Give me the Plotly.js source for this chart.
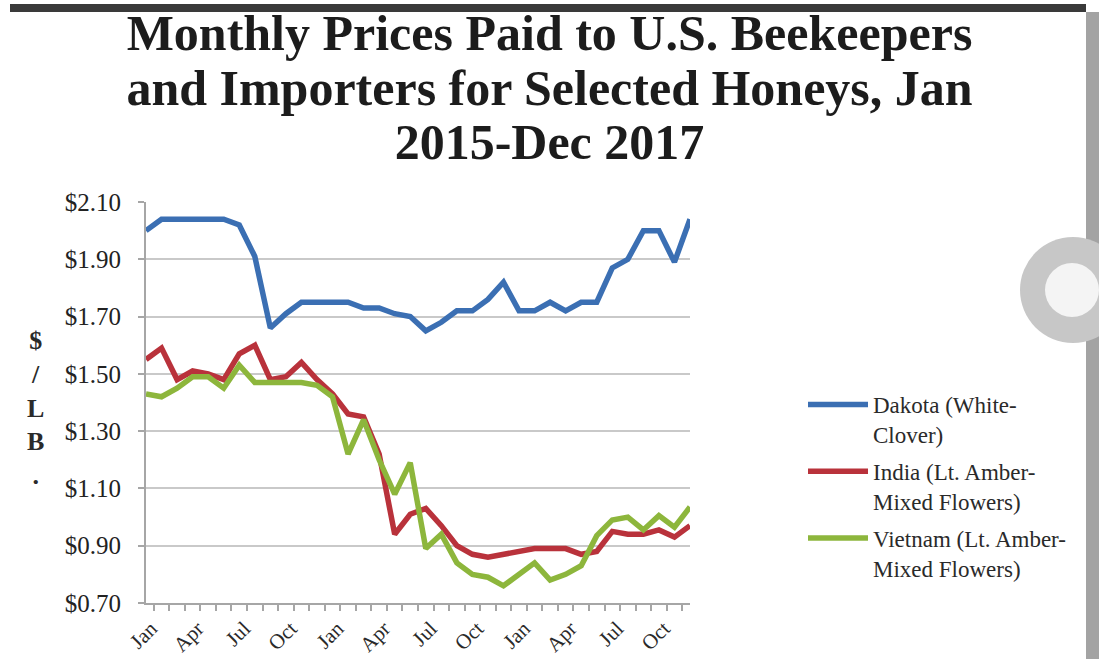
<!DOCTYPE html>
<html>
<head>
<meta charset="utf-8">
<script src="https://cdn.plot.ly/plotly-3.0.1.min.js"></script>
<style>
  html, body { margin: 0; padding: 0; background: #ffffff; }
  #chart { width: 1099px; height: 659px; }
</style>
</head>
<body>
<div id="chart"></div>
<script>
// ---- Data ----
const months = [
  "Jan 2015","Feb 2015","Mar 2015","Apr 2015","May 2015","Jun 2015",
  "Jul 2015","Aug 2015","Sep 2015","Oct 2015","Nov 2015","Dec 2015",
  "Jan 2016","Feb 2016","Mar 2016","Apr 2016","May 2016","Jun 2016",
  "Jul 2016","Aug 2016","Sep 2016","Oct 2016","Nov 2016","Dec 2016",
  "Jan 2017","Feb 2017","Mar 2017","Apr 2017","May 2017","Jun 2017",
  "Jul 2017","Aug 2017","Sep 2017","Oct 2017","Nov 2017","Dec 2017"
];
const tickLabels = [
  "Jan","","","Apr","","","Jul","","","Oct","","",
  "Jan","","","Apr","","","Jul","","","Oct","","",
  "Jan","","","Apr","","","Jul","","","Oct","",""
];
const dakota = [
  2.00, 2.04, 2.04, 2.04, 2.04, 2.04, 2.02, 1.91, 1.66, 1.71, 1.75, 1.75,
  1.75, 1.75, 1.73, 1.73, 1.71, 1.70, 1.65, 1.68, 1.72, 1.72, 1.76, 1.82,
  1.72, 1.72, 1.75, 1.72, 1.75, 1.75, 1.87, 1.90, 2.00, 2.00, 1.89, 2.04
];
const india = [
  1.55, 1.59, 1.48, 1.51, 1.50, 1.48, 1.57, 1.60, 1.48, 1.49, 1.54, 1.48,
  1.43, 1.36, 1.35, 1.22, 0.94, 1.01, 1.03, 0.97, 0.90, 0.87, 0.86, 0.87,
  0.88, 0.89, 0.89, 0.89, 0.87, 0.88, 0.95, 0.94, 0.94, 0.955, 0.93, 0.97
];
const vietnam = [
  1.43, 1.42, 1.45, 1.49, 1.49, 1.45, 1.53, 1.47, 1.47, 1.47, 1.47, 1.46,
  1.42, 1.22, 1.34, 1.20, 1.08, 1.19, 0.89, 0.94, 0.84, 0.80, 0.79, 0.76,
  0.80, 0.84, 0.78, 0.80, 0.83, 0.935, 0.99, 1.00, 0.955, 1.005, 0.965, 1.035
];
const seriesNames = [
  "Dakota (White-<br>Clover)",
  "India (Lt. Amber-<br>Mixed Flowers)",
  "Vietnam (Lt. Amber-<br>Mixed Flowers)"
];
const titleLines = [
  "Monthly Prices Paid to U.S. Beekeepers",
  "and Importers for Selected Honeys, Jan",
  "2015-Dec 2017"
];
const yTicks = [0.70, 0.90, 1.10, 1.30, 1.50, 1.70, 1.90, 2.10];

// ---- Styling ----
const colors = ["#3b6fb3", "#b9323b", "#8db63c"];
const serif = "Liberation Serif, Times New Roman, serif";

const seriesValues = [dakota, india, vietnam];
const traces = seriesValues.map((vals, k) => ({
  type: "scatter",
  mode: "lines",
  x: months,
  y: vals,
  name: seriesNames[k],
  legendgroup: "g" + k,
  line: { color: colors[k], width: 5.5, shape: "linear" },
  hovertemplate: "%{x}: $%{y:.2f}<extra></extra>"
}));

// helpers for decorations (pixel -> paper)
const L = 146, R = 690, T = 202, B = 603;
const px = x => (x - L) / (R - L);
const py = y => (B - y) / (B - T);

const layout = {
  width: 1099,
  height: 659,
  paper_bgcolor: "#ffffff",
  plot_bgcolor: "#ffffff",
  margin: { l: L, r: 1099 - R, t: T, b: 659 - B, pad: 0 },
  showlegend: true,
  title: {
    text: titleLines.map(s => '<span style="font-size:50px">' + s + '</span>').join("<br>"),
    font: { family: serif, size: 42, color: "#1c1c1c", weight: "bold" },
    x: 0.5, xanchor: "center",
    y: 0.924, yanchor: "top", yref: "container"
  },
  xaxis: {
    type: "category",
    tickmode: "array",
    tickvals: months,
    ticktext: tickLabels,
    tickson: "boundaries",
    ticks: "outside",
    ticklen: 6,
    tickwidth: 1.5,
    tickcolor: "#a6a6a6",
    tickangle: -45,
    ticklabelstandoff: 3,
    ticklabelshift: 5,
    tickfont: { family: serif, size: 21, color: "#2a2a2a" },
    showline: true,
    linecolor: "#a6a6a6",
    linewidth: 2,
    showgrid: false,
    zeroline: false,
    fixedrange: true
  },
  yaxis: {
    range: [0.70, 2.10],
    tickmode: "array",
    tickvals: yTicks,
    tickformat: "$.2f",
    ticks: "outside",
    ticklen: 6,
    tickwidth: 1.5,
    tickcolor: "#a6a6a6",
    ticklabelstandoff: 12,
    tickfont: { family: serif, size: 25, color: "#222222" },
    showline: true,
    linecolor: "#a6a6a6",
    linewidth: 2,
    showgrid: true,
    gridcolor: "#c9c9c9",
    gridwidth: 2,
    zeroline: false,
    fixedrange: true
  },
  legend: {
    x: px(803), xanchor: "left",
    y: py(383), yanchor: "top",
    xref: "paper", yref: "paper",
    valign: "top",
    traceorder: "grouped",
    tracegroupgap: 4,
    itemwidth: 60,
    font: { family: serif, size: 23, color: "#2a2a2a" },
    bgcolor: "rgba(0,0,0,0)"
  },
  annotations: [
    {
      text: "$<br>/<br>L<br>B<br>.",
      xref: "paper", yref: "paper",
      x: px(35), y: py(408),
      xanchor: "center", yanchor: "middle",
      showarrow: false,
      align: "center",
      font: { family: serif, size: 26, color: "#2a2a2a", weight: "bold" }
    }
  ],
  shapes: [
    // dark bar at the top of the screenshot
    { type: "rect", xref: "paper", yref: "paper", layer: "above",
      x0: px(10), x1: px(1086), y0: py(12), y1: py(4),
      fillcolor: "#3a3a3a", line: { width: 0 } },
    // gray strip at the right edge
    { type: "rect", xref: "paper", yref: "paper", layer: "above",
      x0: px(1086), x1: px(1100), y0: py(660), y1: py(12),
      fillcolor: "#a3a3a3", line: { width: 0 } },
    // round overlay button
    { type: "circle", xref: "paper", yref: "paper", layer: "above",
      x0: px(1020), x1: px(1126), y0: py(343), y1: py(237),
      fillcolor: "#c7c7c7", line: { width: 0 } },
    { type: "circle", xref: "paper", yref: "paper", layer: "above",
      x0: px(1045), x1: px(1099), y0: py(317), y1: py(263),
      fillcolor: "#f4f4f4", line: { width: 0 } }
  ]
};

Plotly.newPlot("chart", traces, layout, { displayModeBar: false });
</script>
</body>
</html>
